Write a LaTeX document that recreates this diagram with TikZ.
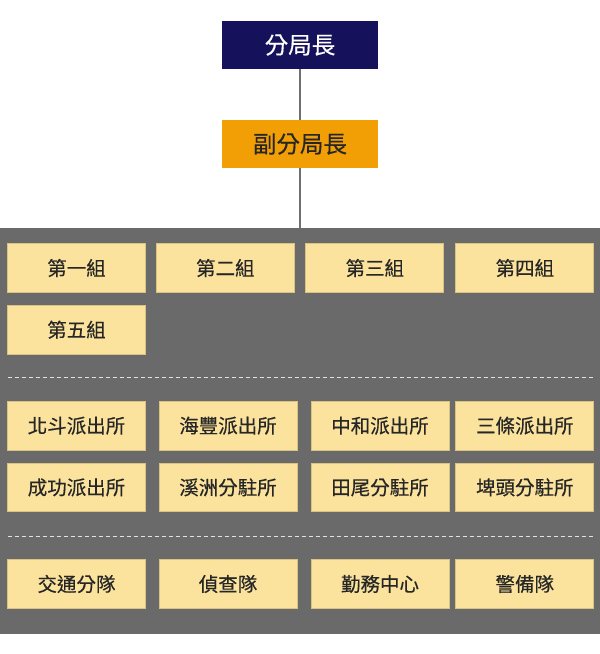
\documentclass[tikz,border=0pt]{standalone}
\usepackage{fontspec}
\setmainfont{Noto Sans CJK TC}
\newfontfamily\unitfont[FakeBold=0.4]{Noto Sans CJK TC}
\definecolor{chief}{HTML}{15115A}
\definecolor{deputy}{HTML}{F29F05}
\definecolor{unitfill}{HTML}{FBE39E}
\definecolor{unitline}{HTML}{D9C383}
\definecolor{panel}{HTML}{6A6A6A}
\definecolor{wire}{HTML}{707070}

\begin{document}
\begin{tikzpicture}[x=1pt, y=-1pt,
  every node/.style={rectangle, inner sep=0pt},
  unit/.style={draw=unitline, line width=0.8pt, fill=unitfill, minimum width=138pt, minimum height=48.5pt, text=black!85, font=\unitfont\fontsize{19.5}{19.5}\selectfont},
  head/.style={minimum width=156pt, minimum height=48pt, font=\unitfont\fontsize{23.5}{23.5}\selectfont}]
\useasboundingbox (0,0) rectangle (600,654);
\fill[panel] (0,228) rectangle (600,634);
\node[head, fill=chief, text=white] (B0) at (300, 45) {分局長};
\node[head, fill=deputy, text=black!85] (B1) at (300, 144) {副分局長};
\coordinate (P0) at (300, 228);
\draw[wire, line width=1.3pt] (B0) -- (B1);
\draw[wire, line width=1.3pt] (B1) -- (P0);
% groups
\node[unit] (G1) at (76.5, 268) {第一組};
\node[unit] (G2) at (225.3, 268) {第二組};
\node[unit] (G3) at (374.8, 268) {第三組};
\node[unit] (G4) at (524.8, 268) {第四組};
\node[unit] (G5) at (76.5, 329.7) {第五組};
\draw[white!80!panel, line width=1pt, dash pattern=on 4pt off 3pt] (7.7, 377.3) -- (593.6, 377.3);
% stations
\node[unit] (S1) at (76.5, 425.7) {北斗派出所};
\node[unit] (S2) at (228, 425.7) {海豐派出所};
\node[unit] (S3) at (380, 425.7) {中和派出所};
\node[unit] (S4) at (524.8, 425.7) {三條派出所};
\node[unit] (S5) at (76.5, 487.4) {成功派出所};
\node[unit] (S6) at (228, 487.4) {溪洲分駐所};
\node[unit] (S7) at (380, 487.4) {田尾分駐所};
\node[unit] (S8) at (524.8, 487.4) {埤頭分駐所};
\draw[white!80!panel, line width=1pt, dash pattern=on 4pt off 3pt] (7.7, 536) -- (593.6, 536);
% squads
\node[unit] (D1) at (76.5, 584) {交通分隊};
\node[unit] (D2) at (228, 584) {偵查隊};
\node[unit] (D3) at (380, 584) {勤務中心};
\node[unit] (D4) at (524.8, 584) {警備隊};
\end{tikzpicture}
\end{document}
